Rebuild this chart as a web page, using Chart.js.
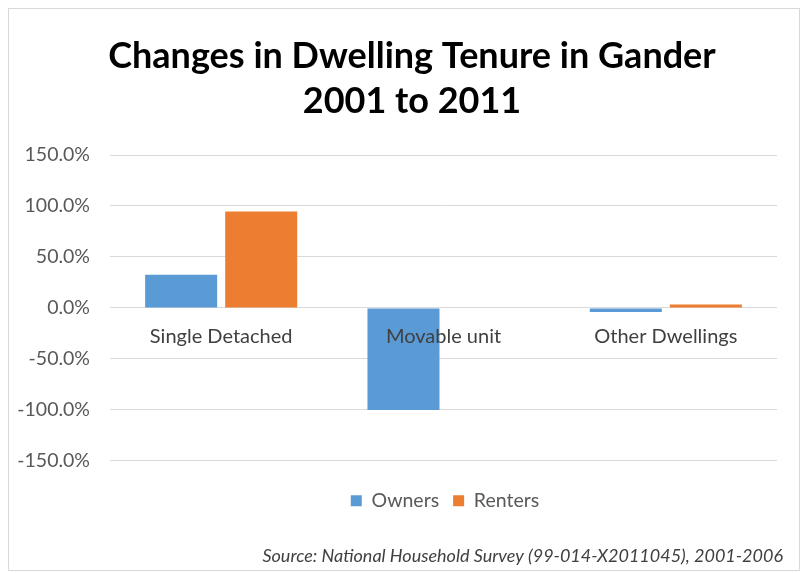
<!DOCTYPE html>
<html>
<head>
<meta charset="utf-8">
<script src="https://cdn.jsdelivr.net/npm/chart.js@4/dist/chart.umd.min.js"></script>
<style>
    body { margin: 0; background: #fff; }
    .frame {
        position: absolute; left: 8px; top: 8px;
        width: 792px; height: 563px;
        border: 1px solid #d9d9d9; box-sizing: border-box;
    }
    canvas { display: block; }
</style>
</head>
<body>
<div class="frame"><canvas id="tenureChart" width="790" height="561"></canvas></div>
<script>
    const categories = ['Single Detached', 'Movable unit', 'Other Dwellings'];
    const owners = [32.5, -100.0, -4.0];
    const renters = [94.5, 0.0, 3.5];
    const yTicks = [-150, -100, -50, 0, 50, 100, 150];

    // nudge title, legend and source line sideways after layout
    const shiftBlocks = {
        id: 'shiftBlocks',
        afterLayout: function(chart) {
            const title = chart.titleBlock;
            title.left += 19; title.right += 19;
            chart.legend.left += 52; chart.legend.right += 52;
            chart.boxes.forEach(function(b) {
                if (b !== title && b.constructor === title.constructor) {
                    b.left += 6; b.right += 6;
                }
            });
        }
    };

    const ctx = document.getElementById('tenureChart').getContext('2d');
    new Chart(ctx, {
        type: 'bar',
        data: {
            labels: categories,
            datasets: [{
                label: 'Owners',
                data: owners,
                backgroundColor: '#5b9bd5',
                categoryPercentage: 0.72,
                barPercentage: 0.9
            }, {
                label: 'Renters',
                data: renters,
                backgroundColor: '#ed7d31',
                categoryPercentage: 0.72,
                barPercentage: 0.9
            }]
        },
        plugins: [shiftBlocks],
        options: {
            responsive: false,
            animation: false,
            layout: { padding: { left: 0, right: 22, top: 0, bottom: 3 } },
            plugins: {
                title: {
                    display: true,
                    text: ['Changes in Dwelling Tenure in Gander', '2001 to 2011'],
                    color: '#000',
                    font: { family: 'Lato', size: 36, weight: 'bold', lineHeight: 1.25 },
                    padding: { top: 25, bottom: 31 }
                },
                subtitle: {
                    display: true,
                    position: 'bottom',
                    align: 'end',
                    text: 'Source: National Household Survey (99-014-X2011045), 2001-2006',
                    color: '#404040',
                    font: { family: 'Lato', size: 18, style: 'italic' },
                    padding: { top: 25, bottom: 0 }
                },
                legend: {
                    position: 'bottom',
                    // empty title only adds space above the legend items
                    title: {
                        display: true,
                        text: '',
                        font: { size: 10, lineHeight: 1 },
                        padding: { top: 6, bottom: 0 }
                    },
                    labels: {
                        color: '#595959',
                        font: { family: 'Lato', size: 19.5 },
                        boxWidth: 11,
                        boxHeight: 11,
                        padding: 14
                    }
                },
                tooltip: { enabled: false }
            },
            scales: {
                x: {
                    position: { y: 0 },
                    grid: { display: false, drawTicks: false },
                    border: { display: false },
                    ticks: {
                        z: 1,
                        color: '#404040',
                        font: { family: 'Lato', size: 20 },
                        padding: 17
                    }
                },
                y: {
                    min: -150,
                    max: 150,
                    afterBuildTicks: function(axis) {
                        axis.ticks = yTicks.map(v => ({ value: v }));
                    },
                    afterFit: function(axis) {
                        axis.width = 101;
                    },
                    grid: { color: '#d9d9d9', drawTicks: false },
                    border: { display: false },
                    ticks: {
                        color: '#595959',
                        font: { family: 'Lato', size: 19.5 },
                        padding: 20,
                        callback: function(value) {
                            return value.toFixed(1) + '%';
                        }
                    }
                }
            }
        }
    });
</script>
</body>
</html>
